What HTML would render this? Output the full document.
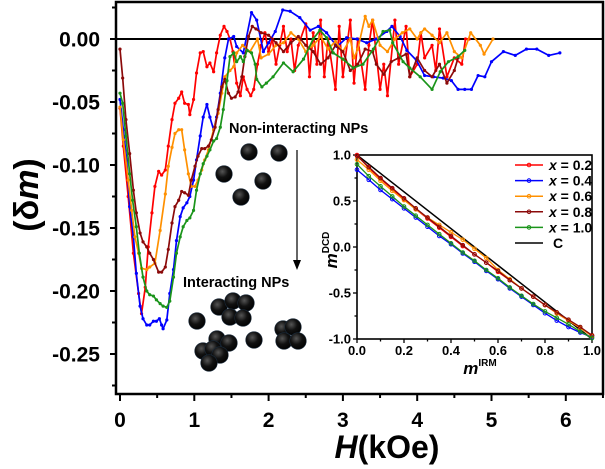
<!DOCTYPE html>
<html><head><meta charset="utf-8"><style>
html,body{margin:0;padding:0;background:#fff;}
svg{display:block;font-family:"Liberation Sans",Arial,sans-serif;font-weight:bold;}
</style></head><body>
<svg id="chart" width="605" height="469" viewBox="0 0 605 469" xmlns="http://www.w3.org/2000/svg">
<defs>
<radialGradient id="ball" cx="0.4" cy="0.35" r="0.7">
<stop offset="0" stop-color="#555"/><stop offset="0.5" stop-color="#111"/><stop offset="1" stop-color="#000"/>
</radialGradient>
</defs>
<g id="main"></g>
<g id="balls"></g>
<text x="229" y="133" font-size="14.5">Non-interacting NPs</text>
<text x="183" y="287" font-size="14.5">Interacting NPs</text>
<line x1="297" y1="150" x2="297" y2="262" stroke="#000" stroke-width="1.2"/>
<path d="M293,260 L297,270 L301,260 Z" fill="#000"/>
<g id="inset"></g>
<text x="387" y="458" text-anchor="middle" font-size="32"><tspan font-style="italic">H</tspan>(kOe)</text>
<text transform="translate(38,195) rotate(-90)" text-anchor="middle" font-size="34">(δ<tspan font-style="italic">m</tspan>)</text>
</svg>
<script>
// ---- main chart data ----
const seriesNames = ["x = 0.2","x = 0.4","x = 0.6","x = 0.8","x = 1.0"];
const seriesColors = ["#ff0000","#0000ff","#ff9000","#8b0a0a","#1a941a"];
const redH = [0,0.045,0.11,0.18,0.25,0.29,0.34,0.38,0.43,0.47,0.52,0.56,0.61,0.65,0.70,0.74,0.79,0.83,0.87,0.92,0.94,0.99,1.03,1.08,1.12,1.17,1.21,1.26,1.30,1.35,1.40,1.44,1.48,1.52,1.57,1.62,1.66,1.71,1.76,1.80,1.85,1.90,1.95,2.0,2.05,2.1,2.15,2.2,2.25,2.3,2.35,2.4,2.5,2.55,2.6,2.65,2.7,2.75,2.8,2.9,2.95,3.0,3.1,3.15,3.2,3.3,3.35,3.4,3.5,3.55,3.6,3.7,3.75,3.85,3.9,4.0,4.05,4.1,4.2,4.25,4.3,4.4,4.5,4.6,4.65,4.7];
const redV = [-0.055,-0.085,-0.125,-0.17,-0.202,-0.218,-0.197,-0.165,-0.138,-0.117,-0.105,-0.108,-0.104,-0.085,-0.064,-0.051,-0.047,-0.042,-0.051,-0.052,-0.06,-0.048,-0.027,-0.011,-0.01,-0.022,-0.019,-0.026,-0.011,0.003,0.01,0.006,0.0,-0.01,-0.035,-0.045,-0.03,-0.04,-0.045,-0.04,-0.02,-0.005,0.005,-0.01,0.0,-0.02,-0.005,0.01,-0.01,0.0,-0.025,-0.005,0.012,-0.03,0.005,-0.02,0.015,-0.03,0.0,-0.04,0.01,-0.03,0.015,-0.035,0.0,-0.04,-0.005,0.015,-0.04,-0.02,-0.045,0.015,-0.02,0.01,-0.03,-0.02,0.005,-0.015,-0.005,-0.025,0.008,-0.03,-0.015,-0.02,0.0,0.0];
const blueH = [0,0.045,0.09,0.13,0.18,0.22,0.27,0.31,0.36,0.4,0.45,0.49,0.53,0.56,0.58,0.63,0.67,0.72,0.76,0.81,0.85,0.9,0.94,0.99,1.03,1.08,1.12,1.17,1.21,1.26,1.3,1.35,1.41,1.46,1.53,1.57,1.66,1.77,1.84,1.93,2.0,2.09,2.19,2.29,2.42,2.56,2.67,2.78,2.92,3.05,3.19,3.32,3.45,3.59,3.66,3.77,3.86,3.99,4.1,4.22,4.35,4.46,4.55,4.64,4.73,4.82,4.91,5.0,5.16,5.32,5.47,5.61,5.77,5.92];
const blueV = [-0.048,-0.072,-0.096,-0.133,-0.157,-0.186,-0.212,-0.222,-0.227,-0.227,-0.224,-0.224,-0.222,-0.227,-0.23,-0.223,-0.202,-0.183,-0.16,-0.141,-0.134,-0.13,-0.125,-0.112,-0.096,-0.077,-0.062,-0.052,-0.062,-0.072,-0.062,-0.043,-0.015,0.0,0.002,-0.006,-0.011,0.021,0.015,-0.01,-0.003,0.006,0.023,0.022,0.017,0.007,0.01,0.005,-0.006,0.001,0.0,-0.003,0.0,0.006,0.01,0.002,-0.009,-0.017,-0.029,-0.03,-0.031,-0.033,-0.04,-0.04,-0.04,-0.029,-0.03,-0.018,-0.01,-0.013,-0.008,-0.008,-0.013,-0.011];
const orangeH = [0,0.045,0.11,0.157,0.2,0.25,0.29,0.36,0.4,0.47,0.54,0.61,0.65,0.7,0.74,0.79,0.83,0.87,0.92,0.96,1.01,1.05,1.1,1.14,1.19,1.26,1.32,1.37,1.41,1.48,1.53,1.57,1.65,1.75,1.85,1.9,2.0,2.1,2.2,2.3,2.4,2.5,2.6,2.7,2.8,2.9,3.0,3.1,3.15,3.2,3.3,3.35,3.4,3.5,3.6,3.7,3.8,3.9,4.0,4.05,4.1,4.2,4.3,4.4,4.5,4.6,4.72,4.85,4.9,5.02];
const orangeV = [-0.054,-0.08,-0.112,-0.136,-0.157,-0.17,-0.182,-0.183,-0.181,-0.178,-0.152,-0.123,-0.101,-0.086,-0.075,-0.072,-0.072,-0.088,-0.107,-0.117,-0.117,-0.112,-0.104,-0.096,-0.088,-0.072,-0.059,-0.043,-0.03,-0.025,-0.022,-0.011,-0.005,-0.01,0.0,-0.015,-0.012,-0.005,-0.003,0.005,0.0,-0.01,-0.005,0.002,-0.008,-0.002,-0.01,0.0,-0.015,-0.008,0.018,0.01,0.015,-0.005,-0.01,0.0,0.005,0.008,0.0,0.005,0.008,0.003,-0.003,0.005,-0.01,-0.015,0.005,-0.005,-0.012,0.0];
const brownH = [0,0.036,0.08,0.13,0.18,0.22,0.27,0.31,0.36,0.4,0.45,0.52,0.56,0.61,0.65,0.7,0.74,0.79,0.83,0.87,0.92,0.96,1.01,1.05,1.1,1.14,1.19,1.23,1.28,1.32,1.37,1.41,1.46,1.5,1.55,1.59,1.64,1.68,1.73,1.78,1.83,1.9,2.0,2.1,2.2,2.3,2.4,2.5,2.6,2.7,2.8,2.9,3.0,3.1,3.2,3.3,3.4,3.45,3.55,3.65,3.75,3.85,3.9,4.0,4.1,4.2,4.3,4.4,4.5,4.55];
const brownV = [-0.008,-0.031,-0.064,-0.091,-0.12,-0.138,-0.154,-0.161,-0.165,-0.17,-0.175,-0.185,-0.185,-0.181,-0.167,-0.146,-0.133,-0.128,-0.121,-0.122,-0.124,-0.112,-0.101,-0.093,-0.087,-0.087,-0.085,-0.08,-0.07,-0.056,-0.038,-0.032,-0.043,-0.047,-0.046,-0.042,-0.03,-0.014,0.002,0.01,0.008,0.005,0.003,-0.003,-0.01,-0.003,0.002,-0.005,-0.01,-0.02,-0.015,-0.005,-0.01,-0.025,-0.02,-0.008,-0.01,-0.02,-0.028,-0.018,-0.015,-0.012,-0.03,-0.015,-0.025,-0.03,-0.02,-0.035,-0.025,-0.015];
const greenH = [0,0.036,0.08,0.13,0.17,0.22,0.26,0.31,0.36,0.4,0.45,0.49,0.54,0.58,0.63,0.67,0.72,0.76,0.81,0.85,0.9,0.94,0.99,1.03,1.08,1.12,1.17,1.21,1.26,1.3,1.35,1.39,1.44,1.48,1.53,1.57,1.62,1.66,1.71,1.77,1.82,1.84,1.91,1.97,2.06,2.2,2.33,2.47,2.6,2.69,2.78,2.87,3.0,3.14,3.27,3.41,3.54,3.63,3.67,3.81,3.9,4.04,4.2,4.31,4.42,4.55,4.64];
const greenV = [-0.043,-0.051,-0.077,-0.107,-0.128,-0.149,-0.17,-0.189,-0.2,-0.203,-0.204,-0.207,-0.21,-0.212,-0.213,-0.208,-0.189,-0.17,-0.157,-0.149,-0.144,-0.142,-0.136,-0.12,-0.107,-0.099,-0.093,-0.088,-0.081,-0.079,-0.07,-0.056,-0.033,-0.014,-0.011,-0.018,-0.014,-0.018,-0.009,-0.011,-0.02,-0.032,-0.038,-0.035,-0.03,-0.019,-0.026,-0.016,0.0,0.007,0.001,-0.011,-0.016,-0.023,-0.02,-0.008,0.006,0.007,-0.003,-0.018,-0.023,-0.03,-0.04,-0.026,-0.018,-0.014,-0.009];
const xTicks = [0,1,2,3,4,5,6];
const yTicks = [0,-0.05,-0.10,-0.15,-0.20,-0.25];
const yTickLabels = ["0.00","-0.05","-0.10","-0.15","-0.20","-0.25"];
// ---- inset data ----
const insetX = [0,0.05,0.1,0.15,0.2,0.25,0.3,0.35,0.4,0.45,0.5,0.55,0.6,0.65,0.7,0.75,0.8,0.85,0.9,0.95,1.0];
const insetRed = [1.0,0.86,0.74,0.63,0.52,0.41,0.31,0.21,0.11,0.01,-0.08,-0.17,-0.27,-0.36,-0.45,-0.54,-0.63,-0.72,-0.8,-0.88,-0.96];
const insetBlue = [0.84,0.73,0.62,0.52,0.42,0.32,0.22,0.12,0.03,-0.07,-0.16,-0.26,-0.35,-0.45,-0.54,-0.63,-0.72,-0.8,-0.87,-0.93,-0.98];
const insetOrange = [0.95,0.84,0.72,0.61,0.51,0.41,0.32,0.24,0.16,0.08,-0.02,-0.12,-0.25,-0.35,-0.45,-0.54,-0.63,-0.72,-0.8,-0.88,-0.97];
const insetBrown = [0.99,0.87,0.75,0.64,0.53,0.42,0.32,0.22,0.12,0.02,-0.08,-0.17,-0.26,-0.36,-0.45,-0.54,-0.63,-0.71,-0.79,-0.87,-0.96];
const insetGreen = [0.9,0.77,0.66,0.55,0.44,0.34,0.24,0.14,0.04,-0.06,-0.15,-0.25,-0.34,-0.44,-0.53,-0.62,-0.7,-0.77,-0.84,-0.92,-0.99];
const insetC = [1,-1];
const insetCX = [0,1];
const insetTicks = [0,0.2,0.4,0.6,0.8,1.0];
const insetYTicks = [1.0,0.5,0.0,-0.5,-1.0];

const NS = "http://www.w3.org/2000/svg";
function mk(tag, attrs, parent){ const e=document.createElementNS(NS,tag); for(const k in attrs) e.setAttribute(k,attrs[k]); parent.appendChild(e); return e; }

const xS = h => 120 + h*74.3;
const yS = v => 39 - v*1260;
const main = document.getElementById('main');

const frame = mk('rect',{x:116,y:2,width:487,height:392,fill:'none',stroke:'#000','stroke-width':2.5},main);


const zl = mk('line',{x1:116,x2:603,y1:yS(0),y2:yS(0),stroke:'#000','stroke-width':2},main);



for(let v=0.025; v>=-0.28; v-=0.025){
  const major = Math.abs(Math.round(v*40))%2===0;
  const t = mk('line',{x1:116,x2:major?110:112,y1:yS(v),y2:yS(v),stroke:'#000','stroke-width':2},main);
  
  
}
yTicks.forEach((v,i)=>{
  const t = mk('text',{x:100,y:yS(v)+7.5,'text-anchor':'end','font-size':21},main);
  t.textContent = yTickLabels[i];
  
  
});
for(let h=0; h<=6.5; h+=0.5){
  const major = Math.abs(h-Math.round(h))<0.01;
  const t = mk('line',{x1:xS(h),x2:xS(h),y1:394,y2:major?401:398,stroke:'#000','stroke-width':2},main);
  
  
}
xTicks.forEach(h=>{
  const t = mk('text',{x:xS(h),y:427,'text-anchor':'middle','font-size':21},main);
  t.textContent = String(h);
  
  
});

const mainSeries = [[redH,redV],[blueH,blueV],[orangeH,orangeV],[brownH,brownV],[greenH,greenV]];
mainSeries.forEach((s,i)=>{
  const g = mk('g',{},main);
  
  
  const pts = s[0].map((h,j)=>xS(h).toFixed(1)+','+yS(s[1][j]).toFixed(1)).join(' ');
  mk('polyline',{points:pts,fill:'none',stroke:seriesColors[i],'stroke-width':1.7,'stroke-linejoin':'round'},g);
  s[0].forEach((h,j)=>{
    const c = mk('circle',{cx:xS(h),cy:yS(s[1][j]),r:1.6,fill:seriesColors[i]},g);
    
    
  });
});

const ballsG = document.getElementById('balls');
const ballPos = [[249,152],[279,153],[224,174],[263,181],[241,197],
 [197,321],[219,307],[233,301],[246,303],[230,317],[243,318],[217,339],[229,343],[203,351],[213,349],[220,355],[209,363],[254,340],[283,329],[293,327],[284,341],[298,341]];
ballPos.forEach(p=>{
  const c = mk('circle',{cx:p[0],cy:p[1],r:8.3,fill:'url(#ball)',stroke:'#1a2a3a','stroke-width':0.6},ballsG);
  
  
});

const inset = document.getElementById('inset');
const ixS = x => 357 + x*235;
const iyS = y => 247 - y*92;
const bg = mk('rect',{x:357,y:155,width:235,height:184,fill:'#fff',stroke:'#000','stroke-width':1.6},inset);


for(let x=0; x<=1.001; x+=0.1){
  const major = Math.round(x*10)%2===0;
  const t = mk('line',{x1:ixS(x),x2:ixS(x),y1:339,y2:major?343:341.5,stroke:'#000','stroke-width':1.3},inset);
  
  
}
for(let y=-1; y<=1.001; y+=0.25){
  const major = Math.round(y*4)%2===0;
  const t = mk('line',{x1:357,x2:major?353:354.5,y1:iyS(y),y2:iyS(y),stroke:'#000','stroke-width':1.3},inset);
  
  
}
insetTicks.forEach(x=>{
  const t = mk('text',{x:ixS(x),y:355,'text-anchor':'middle','font-size':13},inset);
  t.textContent = x.toFixed(1);
  
  
});
insetYTicks.forEach(y=>{
  const t = mk('text',{x:351,y:iyS(y)+4.5,'text-anchor':'end','font-size':13},inset);
  t.textContent = y.toFixed(1);
  
  
});
const ixt = mk('text',{x:480,y:374,'text-anchor':'middle','font-size':17},inset);
ixt.innerHTML = '<tspan font-style="italic">m</tspan><tspan font-size="10" dy="-8">IRM</tspan>';


const iyt = mk('text',{transform:'translate(337,250) rotate(-90)','text-anchor':'middle','font-size':17},inset);
iyt.innerHTML = '<tspan font-style="italic">m</tspan><tspan font-size="10" dy="-8">DCD</tspan>';



const cl = mk('polyline',{points:insetCX.map((x,j)=>ixS(x)+','+iyS(insetC[j])).join(' '),fill:'none',stroke:'#000','stroke-width':1.5},inset);


const insetSeries = [insetRed,insetBlue,insetOrange,insetBrown,insetGreen];
insetSeries.forEach((s,i)=>{
  const g = mk('g',{},inset);
  
  
  mk('polyline',{points:insetX.map((x,j)=>ixS(x).toFixed(1)+','+iyS(s[j]).toFixed(1)).join(' '),fill:'none',stroke:seriesColors[i],'stroke-width':1.3},g);
  insetX.forEach((x,j)=>{
    const c = mk('circle',{cx:ixS(x),cy:iyS(s[j]),r:1.8,fill:'none',stroke:seriesColors[i],'stroke-width':1},g);
    
    
  });
});

const legG = mk('g',{},inset);


const legNames = seriesNames.concat(['C']);
const legColors = seriesColors.concat(['#000']);
legNames.forEach((n,i)=>{
  const y = 165 + i*15.6;
  const e = mk('g',{},legG);
  
  
  mk('line',{x1:515,x2:543,y1:y,y2:y,stroke:legColors[i],'stroke-width':1.5},e);
  if(i<5) mk('circle',{cx:529,cy:y,r:1.8,fill:'none',stroke:legColors[i],'stroke-width':1},e);
  const t = mk('text',{x:i<5?549:553,y:y+5,'font-size':14},e);
  if(i<5){ t.innerHTML = '<tspan font-style="italic">x</tspan>'+n.slice(1); }
  else t.textContent = n;
});
</script>
</body></html>
